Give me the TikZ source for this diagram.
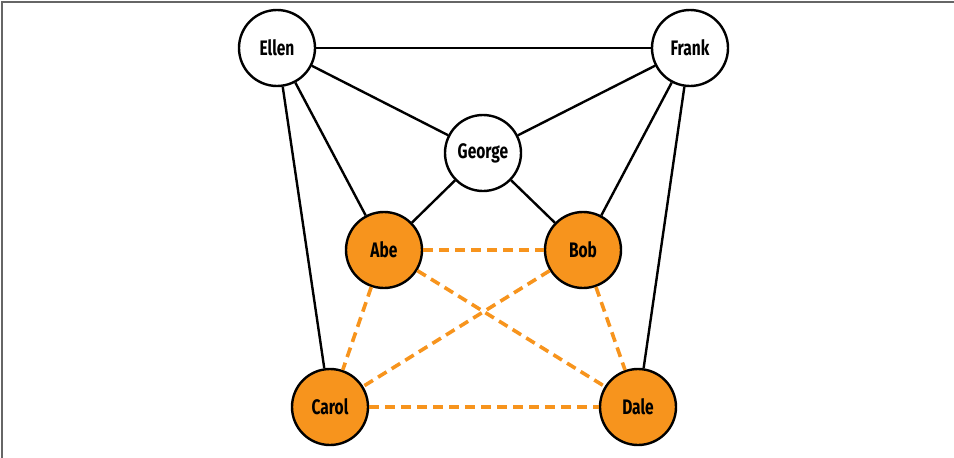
\documentclass[tikz,border=0pt]{standalone}
\usepackage{fontspec}
\setmainfont{Fira Sans}[FakeStretch=0.74]
\usepackage{xcolor}
\definecolor{Tangerine}{HTML}{F7941D}
\tikzset{
  person/.style={circle,draw=black,line width=2.4pt,fill=white,minimum size=76pt,inner sep=0pt,font=\fontsize{21}{22}\selectfont\bfseries},
  member/.style={person,fill=Tangerine},
  tie/.style={line width=2.4pt,black},
  link/.style={line width=3.6pt,Tangerine,dash pattern=on 10pt off 6pt}
}

\begin{document}
\begin{tikzpicture}[x=1pt,y=-1pt]
            \useasboundingbox (0,0) rectangle (954,458);
            \draw[line width=1.2pt,black!60] (954,2) -- (2,2) -- (2,458);

            \node[person] (ellen) at (277,48) {Ellen};
            \node[person] (frank) at (690,48) {Frank};
            \node[person] (george) at (483,153) {George};

            \node[member] (abe) at (384,250) {Abe};
            \node[member] (bob) at (583,250) {Bob};
            \node[member] (carol) at (330,407) {Carol};
            \node[member] (dale) at (638,407) {Dale};

            \draw[tie] (ellen) -- (frank);
            \draw[tie] (ellen) -- (george);
            \draw[tie] (frank) -- (george);
            \draw[tie] (ellen) -- (abe);
            \draw[tie] (ellen) -- (carol);
            \draw[tie] (frank) -- (bob);
            \draw[tie] (frank) -- (dale);
            \draw[tie] (george) -- (abe);
            \draw[tie] (george) -- (bob);

            \draw[link] (abe) -- (bob);
            \draw[link] (abe) -- (carol);
            \draw[link] (abe) -- (dale);
            \draw[link] (bob) -- (carol);
            \draw[link] (bob) -- (dale);
            \draw[link] (carol) -- (dale);
\end{tikzpicture}
\end{document}
